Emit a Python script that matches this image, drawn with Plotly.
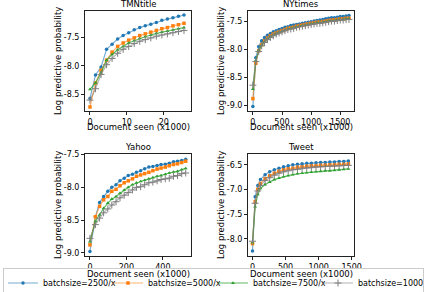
import plotly.graph_objects as go

# ---------------- data ----------------
series_names = ["batchsize=2500/x", "batchsize=5000/x", "batchsize=7500/x", "batchsize=10000/x"]

tmn_x = [0, 1.5, 3, 4.5, 6, 7.5, 9, 10.5, 12, 13.5, 15, 16.5, 18, 19.5, 21, 22.5, 24, 25.5]
tmn_b = [-8.57, -8.16, -8.02, -7.71, -7.62, -7.53, -7.47, -7.42, -7.37, -7.33, -7.30, -7.27, -7.24, -7.20, -7.18, -7.16, -7.13, -7.11]
tmn_o = [-8.72, -8.30, -8.08, -7.90, -7.76, -7.66, -7.60, -7.55, -7.51, -7.47, -7.44, -7.41, -7.38, -7.35, -7.33, -7.30, -7.28, -7.255]
tmn_g = [-8.41, -8.30, -8.12, -7.90, -7.80, -7.72, -7.66, -7.60, -7.56, -7.52, -7.49, -7.46, -7.43, -7.41, -7.39, -7.37, -7.35, -7.33]
tmn_k = [-8.60, -8.40, -8.15, -7.98, -7.87, -7.78, -7.71, -7.66, -7.61, -7.57, -7.54, -7.51, -7.48, -7.46, -7.44, -7.42, -7.40, -7.38]

ny_x = [0, 50, 100, 150, 200, 250, 300, 350, 400, 450, 500, 550, 600, 650, 700, 750, 800, 850,
        900, 950, 1000, 1050, 1100, 1150, 1200, 1250, 1300, 1350, 1400, 1450, 1500, 1550, 1600, 1650]
ny_b = [-9.02, -8.15, -7.95, -7.85, -7.79, -7.75, -7.72, -7.69, -7.67, -7.65, -7.63, -7.61, -7.60, -7.58, -7.57, -7.56, -7.55, -7.54,
        -7.53, -7.52, -7.51, -7.50, -7.49, -7.48, -7.47, -7.46, -7.45, -7.44, -7.44, -7.43, -7.42, -7.42, -7.41, -7.40]
ny_o = [-8.88, -8.25, -8.03, -7.92, -7.85, -7.80, -7.76, -7.73, -7.71, -7.69, -7.67, -7.65, -7.63, -7.62, -7.61, -7.59, -7.58, -7.57,
        -7.56, -7.55, -7.54, -7.53, -7.52, -7.52, -7.51, -7.50, -7.49, -7.48, -7.48, -7.47, -7.46, -7.46, -7.45, -7.45]
ny_g = [-8.71, -8.20, -8.02, -7.93, -7.87, -7.82, -7.78, -7.75, -7.72, -7.70, -7.68, -7.66, -7.64, -7.63, -7.62, -7.60, -7.59, -7.58,
        -7.57, -7.56, -7.55, -7.54, -7.53, -7.53, -7.52, -7.51, -7.50, -7.49, -7.49, -7.48, -7.47, -7.47, -7.46, -7.46]
ny_k = [-8.64, -8.22, -8.04, -7.94, -7.88, -7.83, -7.79, -7.76, -7.73, -7.71, -7.69, -7.67, -7.65, -7.64, -7.63, -7.61, -7.60, -7.59,
        -7.58, -7.57, -7.56, -7.55, -7.54, -7.54, -7.53, -7.52, -7.51, -7.50, -7.50, -7.49, -7.48, -7.48, -7.47, -7.47]

ya_x = [0, 30, 53, 75, 98, 120, 143, 165, 188, 210, 233, 255, 278, 300, 323, 345, 368, 390, 413, 435, 458, 480, 503, 525]
ya_b = [-8.98, -8.45, -8.23, -8.14, -8.06, -8.00, -7.96, -7.90, -7.86, -7.82, -7.80, -7.77, -7.745, -7.715, -7.69, -7.68,
        -7.665, -7.65, -7.645, -7.63, -7.61, -7.60, -7.59, -7.57]
ya_o = [-8.88, -8.45, -8.29, -8.19, -8.14, -8.06, -8.03, -7.975, -7.93, -7.90, -7.87, -7.83, -7.81, -7.79, -7.77, -7.745,
        -7.72, -7.705, -7.69, -7.67, -7.65, -7.64, -7.62, -7.60]
ya_g = [-8.83, -8.52, -8.42, -8.32, -8.24, -8.18, -8.14, -8.09, -8.04, -8.00, -7.96, -7.93, -7.91, -7.89, -7.87, -7.85,
        -7.83, -7.82, -7.80, -7.78, -7.765, -7.755, -7.73, -7.71]
ya_k = [-8.78, -8.57, -8.47, -8.39, -8.33, -8.27, -8.22, -8.16, -8.12, -8.08, -8.04, -8.00, -7.99, -7.96, -7.93, -7.92,
        -7.90, -7.88, -7.87, -7.86, -7.83, -7.82, -7.79, -7.78]

tw_x = [0, 40, 80, 120, 190, 260, 330, 400, 470, 540, 610, 680, 750, 820, 890, 960, 1030, 1100, 1170, 1240, 1310, 1380, 1450]
tw_b = [-8.25, -7.15, -6.92, -6.80, -6.70, -6.64, -6.60, -6.57, -6.54, -6.52, -6.50, -6.49, -6.48, -6.47, -6.47, -6.46,
        -6.45, -6.45, -6.44, -6.44, -6.43, -6.43, -6.42]
tw_o = [-8.10, -7.25, -7.00, -6.88, -6.78, -6.72, -6.67, -6.63, -6.60, -6.58, -6.57, -6.55, -6.54, -6.53, -6.52, -6.52,
        -6.51, -6.51, -6.50, -6.50, -6.49, -6.49, -6.48]
tw_g = [-8.08, -7.35, -7.10, -6.98, -6.90, -6.85, -6.80, -6.77, -6.74, -6.72, -6.70, -6.68, -6.67, -6.66, -6.65, -6.64,
        -6.63, -6.62, -6.62, -6.61, -6.60, -6.59, -6.58]
tw_k = [-8.05, -7.28, -7.03, -6.92, -6.82, -6.76, -6.71, -6.67, -6.64, -6.62, -6.60, -6.59, -6.57, -6.56, -6.55, -6.54,
        -6.54, -6.53, -6.53, -6.52, -6.52, -6.51, -6.51]

# tick values per panel
tmn_xticks = [0, 10, 20]
ny_xticks = [0, 500, 1000, 1500]
ya_xticks = [0, 200, 400]
tw_xticks = [0, 500, 1000, 1500]
tmn_yticks = [-8.5, -8.0, -7.5]
ny_yticks = [-9.0, -8.5, -8.0, -7.5]
ya_yticks = [-9.0, -8.5, -8.0, -7.5]
tw_yticks = [-8.0, -7.5, -7.0, -6.5]

panel_titles = ["TMNtitle", "NYtimes", "Yahoo", "Tweet"]
x_label = "Document seen (x1000)"
y_label = "Log predictive probability"

# ---------------- styling ----------------
W, H = 444, 292
FONT = "DejaVu Sans"
colors = ["#1f77b4", "#ff7f0e", "#2ca02c", "#7f7f7f"]
line_colors = ["rgba(31,119,180,0.6)", "rgba(255,127,14,0.6)", "rgba(44,160,44,0.75)", "rgba(127,127,127,0.6)"]
symbols = ["circle", "square", "triangle-up", "cross-thin"]
sizes = [3.5, 3.5, 3.5, 5]


def fx(px):
    return px / W


def fy(py):
    return 1 - py / H


# (x data, series, pixel box (left, right, top, bottom), x range, y range, x ticks, y ticks, x-label offset)
panels = [
    (tmn_x, [tmn_b, tmn_o, tmn_g, tmn_k], (85, 191, 11, 111), [-1.35, 27.4], [-8.79, -7.04], tmn_xticks, tmn_yticks, 16),
    (ny_x, [ny_b, ny_o, ny_g, ny_k], (248, 354, 11, 111), [-84, 1736], [-9.10, -7.32], ny_xticks, ny_yticks, 16),
    (ya_x, [ya_b, ya_o, ya_g, ya_k], (85, 191, 154, 256), [-27, 554], [-9.05, -7.49], ya_xticks, ya_yticks, 18),
    (tw_x, [tw_b, tw_o, tw_g, tw_k], (248, 354, 154, 256), [-68, 1535], [-8.35, -6.28], tw_xticks, tw_yticks, 18),
]

fig = go.Figure()
layout = dict(
    width=W, height=H, margin=dict(l=0, r=0, t=0, b=0, pad=0, autoexpand=False),
    paper_bgcolor="white", plot_bgcolor="white",
    font=dict(family=FONT, size=8, color="black"),
    showlegend=True,
)
annotations = []
for i, (xs, ys_list, (x0, x1, y0, y1), xr, yr, xt, yt, xlo) in enumerate(panels):
    n = i + 1
    xa = "x" if n == 1 else f"x{n}"
    ya = "y" if n == 1 else f"y{n}"
    for j, ys in enumerate(ys_list):
        fig.add_trace(go.Scatter(
            x=xs, y=ys, mode="lines+markers", name=series_names[j],
            legendgroup=series_names[j], showlegend=(i == 0),
            line=dict(color=line_colors[j], width=1.2),
            marker=dict(color=colors[j], size=sizes[j], symbol=symbols[j],
                        line=dict(width=1 if j == 3 else 0, color=colors[j])),
            xaxis=xa, yaxis=ya,
        ))
    axis_common = dict(showline=True, mirror=True, linecolor="#222", linewidth=1,
                       ticks="outside", ticklen=3, tickwidth=1, tickcolor="#222",
                       showgrid=False, zeroline=False, automargin=False,
                       tickfont=dict(family=FONT, size=8, color="black"))
    layout["xaxis" if n == 1 else f"xaxis{n}"] = dict(
        domain=[fx(x0), fx(x1)], range=xr, tickmode="array", tickvals=xt,
        ticktext=[str(v) for v in xt], anchor=ya, **axis_common)
    layout["yaxis" if n == 1 else f"yaxis{n}"] = dict(
        domain=[fy(y1), fy(y0)], range=yr, tickmode="array", tickvals=yt,
        ticktext=[f"{v:.1f}" for v in yt], anchor=xa, **axis_common)
    cx = (x0 + x1) / 2
    annotations.append(dict(text=panel_titles[i], x=fx(cx), y=fy(y0), xref="paper", yref="paper",
                            xanchor="center", yanchor="bottom", showarrow=False,
                            font=dict(family=FONT, size=8.5, color="black")))
    annotations.append(dict(text=x_label, x=fx(cx), y=fy(y1 + xlo), xref="paper", yref="paper",
                            xanchor="center", yanchor="middle", showarrow=False,
                            font=dict(family=FONT, size=8.5, color="black")))
    annotations.append(dict(text=y_label, x=fx(x0 - 27), y=fy((y0 + y1) / 2), xref="paper", yref="paper",
                            xanchor="center", yanchor="middle", textangle=-90, showarrow=False,
                            font=dict(family=FONT, size=8.5, color="black")))

layout["annotations"] = annotations
layout["legend"] = dict(
    orientation="h", x=fx(3), xanchor="left", y=fy(283), yanchor="middle",
    bgcolor="white", bordercolor="#cccccc", borderwidth=1,
    font=dict(family=FONT, size=8, color="black"),
    entrywidth=60, entrywidthmode="pixels", itemwidth=30, tracegroupgap=0,
)
fig.update_layout(**layout)
# remove the browser's default page margin so the figure sits at the window origin
fig.write_html("out.html",
               config={"displayModeBar": False, "staticPlot": True},
               post_script="document.body.style.margin='0px';document.body.style.overflow='hidden';")
